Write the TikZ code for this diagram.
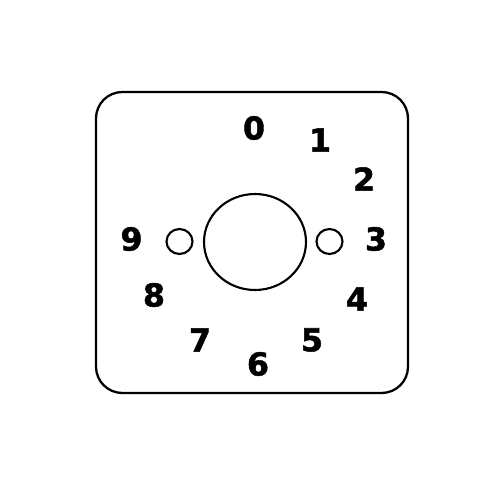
\documentclass[tikz,border=0pt]{standalone}
\usepackage{fontspec}
\setmainfont{DejaVu Sans}
\newfontfamily\heavydigits[FakeBold=1.6]{DejaVu Sans Bold}
\usepackage{tikz}
\usetikzlibrary{calc,positioning}
\tikzset{
	plate/.style={draw,line width=1.3pt,rounded corners=15},
	hole/.style={draw,line width=1.2pt},
	digit/.style={font=\heavydigits\fontsize{18}{18}\selectfont,inner sep=0pt}
}

\begin{document}
\begin{tikzpicture}[x=0.02cm,y=-0.02cm]
      \useasboundingbox (0,0) rectangle (500,500);
      \draw[plate] (96,92) rectangle (408,393);
      \draw[hole] (255,242) ellipse [x radius=51,y radius=48]; %shaft
      \draw[hole] (179.5,241.5) ellipse [x radius=13,y radius=12.5];
      \draw[hole] (329.5,241.5) ellipse [x radius=13,y radius=12.5];
      \foreach \n/\x/\y in {0/254/128, 1/320/140, 2/364/179, 3/376/239,
          4/357/299, 5/312/340, 6/258/364, 7/200/340, 8/154/295, 9/131.5/239}
        \node[digit] (pos\n) at (\x,\y) {\n};
   \end{tikzpicture}
\end{document}
